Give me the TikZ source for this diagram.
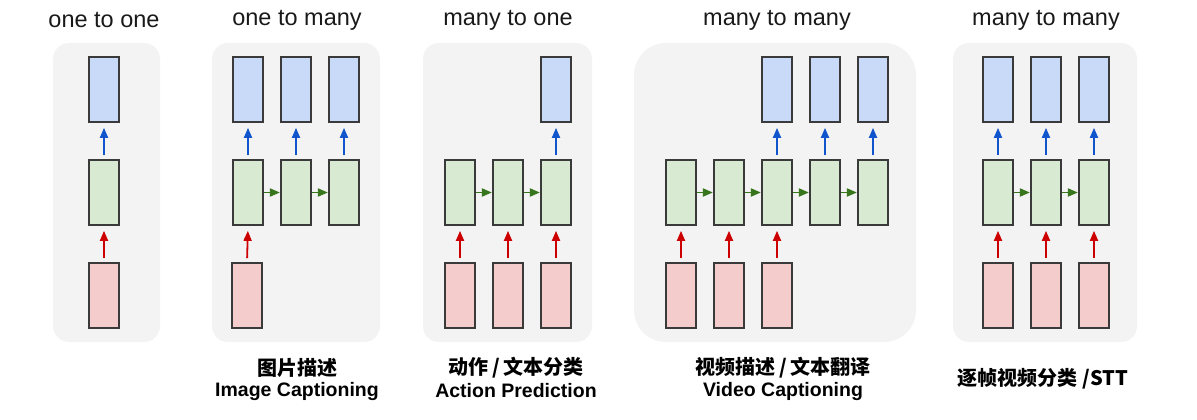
\documentclass[tikz,border=0pt]{standalone}
\usepackage{fontspec}
\setmainfont{Liberation Sans}
\newfontfamily\cjk{Noto Sans CJK SC}
\usetikzlibrary{arrows.meta}
\definecolor{panelbg}{HTML}{F3F3F3}
\definecolor{outc}{HTML}{C9DAF8}
\definecolor{hidc}{HTML}{D9EAD3}
\definecolor{inc}{HTML}{F4CCCC}
\definecolor{edgec}{HTML}{3A3A3A}
\definecolor{blueA}{HTML}{1155CC}
\definecolor{redA}{HTML}{CC0000}
\definecolor{greenA}{HTML}{38761D}
\tikzset{
  cell/.style={draw=edgec, line width=1.7pt, minimum width=29.5pt, minimum height=65pt, inner sep=0pt},
  outcell/.style={cell, fill=outc},
  hidcell/.style={cell, fill=hidc},
  incell/.style={cell, fill=inc},
  panelbox/.style={fill=panelbg, draw=none, rounded corners=#1},
  panelbox/.default=16pt,
  arrtip/.style={-{Triangle[length=10pt,width=8pt]}, line width=1.8pt},
  upout/.style={arrtip, draw=blueA, fill=blueA, shorten <=4pt, shorten >=5pt},
  upin/.style={arrtip, draw=redA, fill=redA, shorten <=4pt, shorten >=5pt},
  rec/.style={arrtip, draw=greenA, fill=greenA, shorten >=0.5pt},
  ttl/.style={font=\fontsize{23.5}{26}\selectfont, text=black!90},
  capcn/.style={font=\cjk\bfseries\fontsize{20}{22}\selectfont, text=black},
  caplat/.style={font=\bfseries\fontsize{19.5}{22}\selectfont, text=black}
}
\begin{document}
\begin{tikzpicture}[x=1pt,y=-1pt]
\useasboundingbox (0,0) rectangle (1197,420);
% panels
\fill[panelbox] (53,43) rectangle (160,342);
\fill[panelbox] (212,43) rectangle (380,342);
\fill[panelbox] (423,43) rectangle (592,342);
\fill[panelbox=32pt] (634,43) rectangle (916,342);
\fill[panelbox] (953,43) rectangle (1137,342);
% titles
\node[ttl] (t1) at (104,20) {one to one};
\node[ttl] (t2) at (297,20) {one to many};
\node[ttl] (t3) at (508,20) {many to one};
\node[ttl] (t4) at (777,20) {many to many};
\node[ttl] (t5) at (1046,20) {many to many};
% panel 1
\node[outcell] (a-o1) at (104,89.5) {};
\node[hidcell] (a-h1) at (104,192.5) {};
\node[incell]  (a-i1) at (104,295.5) {};
\draw[upout] (a-h1.north) -- (a-o1.south);
\draw[upin] (a-i1.north) -- (a-h1.south);
% panel 2
\foreach \k/\x in {1/248,2/296,3/344}{
  \node[outcell] (b-o\k) at (\x,89.5) {};
  \node[hidcell] (b-h\k) at (\x,192.5) {};
  \draw[upout] (b-h\k.north) -- (b-o\k.south);
}
\node[incell] (b-i1) at (247,295.5) {};
\draw[upin] (b-i1.north) -- (b-h1.south);
\draw[rec] (b-h1.east) -- (b-h2.west);
\draw[rec] (b-h2.east) -- (b-h3.west);
% panel 3
\foreach \k/\x in {1/460,2/508,3/556}{
  \node[hidcell] (c-h\k) at (\x,192.5) {};
  \node[incell] (c-i\k) at (\x,295.5) {};
  \draw[upin] (c-i\k.north) -- (c-h\k.south);
}
\node[outcell] (c-o3) at (556,89.5) {};
\draw[upout] (c-h3.north) -- (c-o3.south);
\draw[rec] (c-h1.east) -- (c-h2.west);
\draw[rec] (c-h2.east) -- (c-h3.west);
% panel 4
\foreach \k/\x in {1/681,2/729,3/777,4/825,5/873}{
  \node[hidcell] (d-h\k) at (\x,192.5) {};
}
\foreach \k/\x in {1/681,2/729,3/777}{
  \node[incell] (d-i\k) at (\x,295.5) {};
  \draw[upin] (d-i\k.north) -- (d-h\k.south);
}
\foreach \k/\x in {3/777,4/825,5/873}{
  \node[outcell] (d-o\k) at (\x,89.5) {};
  \draw[upout] (d-h\k.north) -- (d-o\k.south);
}
\draw[rec] (d-h1.east) -- (d-h2.west);
\draw[rec] (d-h2.east) -- (d-h3.west);
\draw[rec] (d-h3.east) -- (d-h4.west);
\draw[rec] (d-h4.east) -- (d-h5.west);
% panel 5
\foreach \k/\x in {1/998,2/1046,3/1094}{
  \node[outcell] (e-o\k) at (\x,89.5) {};
  \node[hidcell] (e-h\k) at (\x,192.5) {};
  \node[incell] (e-i\k) at (\x,295.5) {};
  \draw[upout] (e-h\k.north) -- (e-o\k.south);
  \draw[upin] (e-i\k.north) -- (e-h\k.south);
}
\draw[rec] (e-h1.east) -- (e-h2.west);
\draw[rec] (e-h2.east) -- (e-h3.west);
% captions
\node[capcn] (c2a) at (297,368) {图片描述};
\node[caplat] (c2b) at (297,391) {Image Captioning};
\node[capcn] (c3a) at (516,368) {动作\,/\,文本分类};
\node[caplat] (c3b) at (516,391) {Action Prediction};
\node[capcn] (c4a) at (783,368) {视频描述\,/\,文本翻译};
\node[caplat] (c4b) at (783,391) {Video Captioning};
\node[capcn] (c5a) at (1043,379) {逐帧视频分类 /STT};
\end{tikzpicture}
\end{document}
